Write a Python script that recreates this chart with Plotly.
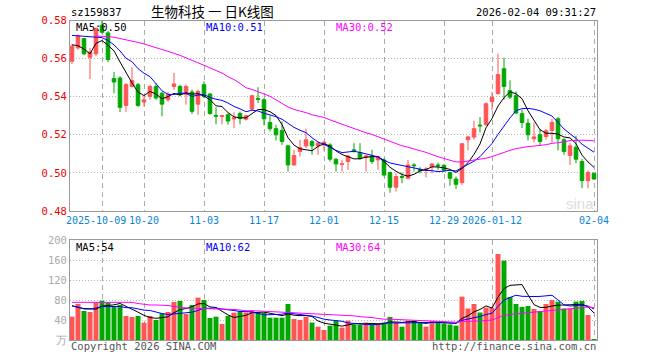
import plotly.graph_objects as go
import pandas as pd

# ---------------- data ----------------
dates = [
    "2025-09-24", "2025-09-25", "2025-09-26", "2025-09-29", "2025-09-30",
    "2025-10-09", "2025-10-10", "2025-10-13", "2025-10-14", "2025-10-15", "2025-10-16", "2025-10-17",
    "2025-10-20", "2025-10-21", "2025-10-22", "2025-10-23", "2025-10-24", "2025-10-27", "2025-10-28",
    "2025-10-29", "2025-10-30", "2025-10-31",
    "2025-11-03", "2025-11-04", "2025-11-05", "2025-11-06", "2025-11-07", "2025-11-10", "2025-11-11",
    "2025-11-12", "2025-11-13", "2025-11-14", "2025-11-17", "2025-11-18", "2025-11-19", "2025-11-20",
    "2025-11-21", "2025-11-24", "2025-11-25", "2025-11-26", "2025-11-27", "2025-11-28",
    "2025-12-01", "2025-12-02", "2025-12-03", "2025-12-04", "2025-12-05", "2025-12-08", "2025-12-09",
    "2025-12-10", "2025-12-11", "2025-12-12", "2025-12-15", "2025-12-16", "2025-12-17", "2025-12-18",
    "2025-12-19", "2025-12-22", "2025-12-23", "2025-12-24", "2025-12-25", "2025-12-26", "2025-12-29",
    "2025-12-30", "2025-12-31",
    "2026-01-05", "2026-01-06", "2026-01-07", "2026-01-08", "2026-01-09", "2026-01-12", "2026-01-13",
    "2026-01-14", "2026-01-15", "2026-01-16", "2026-01-19", "2026-01-20", "2026-01-21", "2026-01-22",
    "2026-01-23", "2026-01-26", "2026-01-27", "2026-01-28", "2026-01-29", "2026-01-30",
    "2026-02-02", "2026-02-03", "2026-02-04",
]

opens = [
    0.5586, 0.5656, 0.5705, 0.5607, 0.5625, 0.5775, 0.5735, 0.5495, 0.5498, 0.5354,
    0.5454, 0.5463, 0.5372, 0.5402, 0.5454, 0.5418, 0.5384, 0.5454, 0.5454, 0.5411,
    0.5425, 0.5361, 0.5463, 0.5414, 0.5302, 0.5296, 0.5305, 0.5283, 0.5312, 0.5282,
    0.5335, 0.5390, 0.5384, 0.5265, 0.5232, 0.5223, 0.5142, 0.5042, 0.5112, 0.5142,
    0.5165, 0.5142, 0.5147, 0.5147, 0.5072, 0.5044, 0.5060, 0.5121, 0.5107, 0.5082,
    0.5089, 0.5068, 0.5068, 0.5002, 0.4925, 0.4981, 0.4972, 0.5042, 0.5018, 0.5016,
    0.5033, 0.5042, 0.5040, 0.5002, 0.4968, 0.4949, 0.5174, 0.5188, 0.5251, 0.5253,
    0.5375, 0.5416, 0.5547, 0.5432, 0.5405, 0.5311, 0.5261, 0.5179, 0.5200, 0.5191,
    0.5223, 0.5284, 0.5174, 0.5091, 0.5135, 0.5060, 0.4960, 0.4998,
]
highs = [
    0.5677, 0.5726, 0.5709, 0.5656, 0.5765, 0.5810, 0.5744, 0.5530, 0.5507, 0.5472,
    0.5555, 0.5472, 0.5402, 0.5463, 0.5472, 0.5425, 0.5425, 0.5525, 0.5463, 0.5463,
    0.5437, 0.5437, 0.5481, 0.5419, 0.5345, 0.5302, 0.5312, 0.5318, 0.5322, 0.5305,
    0.5410, 0.5450, 0.5393, 0.5300, 0.5253, 0.5270, 0.5147, 0.5121, 0.5174, 0.5232,
    0.5174, 0.5165, 0.5168, 0.5156, 0.5077, 0.5068, 0.5095, 0.5156, 0.5156, 0.5095,
    0.5121, 0.5086, 0.5077, 0.5007, 0.4998, 0.5002, 0.5068, 0.5051, 0.5030, 0.5030,
    0.5051, 0.5054, 0.5045, 0.5007, 0.4981, 0.5156, 0.5195, 0.5274, 0.5293, 0.5370,
    0.5425, 0.5626, 0.5604, 0.5486, 0.5428, 0.5332, 0.5284, 0.5265, 0.5230, 0.5230,
    0.5284, 0.5293, 0.5182, 0.5156, 0.5196, 0.5072, 0.5012, 0.5002,
]
lows = [
    0.5572, 0.5647, 0.5618, 0.5493, 0.5612, 0.5732, 0.5582, 0.5418, 0.5319, 0.5319,
    0.5449, 0.5347, 0.5349, 0.5384, 0.5384, 0.5297, 0.5372, 0.5437, 0.5402, 0.5358,
    0.5309, 0.5305, 0.5393, 0.5305, 0.5255, 0.5255, 0.5253, 0.5235, 0.5255, 0.5275,
    0.5330, 0.5367, 0.5249, 0.5218, 0.5170, 0.5147, 0.5007, 0.5037, 0.5086, 0.5130,
    0.5095, 0.5095, 0.5117, 0.5060, 0.5007, 0.5007, 0.5016, 0.5107, 0.5068, 0.5007,
    0.5047, 0.5016, 0.4981, 0.4896, 0.4902, 0.4946, 0.4967, 0.5007, 0.4998, 0.4977,
    0.4998, 0.5016, 0.5007, 0.4933, 0.4916, 0.4937, 0.5118, 0.5174, 0.5212, 0.5247,
    0.5328, 0.5411, 0.5384, 0.5388, 0.5311, 0.5235, 0.5170, 0.5160, 0.5142, 0.5174,
    0.5160, 0.5118, 0.5095, 0.5042, 0.5051, 0.4919, 0.4919, 0.4963,
]
closes = [
    0.5665, 0.5718, 0.5625, 0.5635, 0.5758, 0.5738, 0.5595, 0.5477, 0.5344, 0.5463,
    0.5484, 0.5354, 0.5384, 0.5454, 0.5393, 0.5361, 0.5411, 0.5467, 0.5411, 0.5454,
    0.5323, 0.5428, 0.5402, 0.5312, 0.5298, 0.5300, 0.5272, 0.5289, 0.5285, 0.5300,
    0.5405, 0.5386, 0.5284, 0.5232, 0.5200, 0.5165, 0.5042, 0.5091, 0.5133, 0.5174,
    0.5142, 0.5156, 0.5161, 0.5072, 0.5047, 0.5047, 0.5089, 0.5112, 0.5077, 0.5089,
    0.5060, 0.5086, 0.4989, 0.4925, 0.4981, 0.4977, 0.5042, 0.5038, 0.5012, 0.5020,
    0.5047, 0.5038, 0.5014, 0.4972, 0.4940, 0.5153, 0.5189, 0.5232, 0.5247, 0.5363,
    0.5396, 0.5516, 0.5454, 0.5398, 0.5314, 0.5265, 0.5200, 0.5189, 0.5165, 0.5221,
    0.5265, 0.5179, 0.5112, 0.5142, 0.5072, 0.4960, 0.5002, 0.4968,
]
volumes = [
    46.7, 72, 58, 56, 75.3, 78.7, 74.7, 66.7, 70, 48,
    46, 48, 34.7, 48, 40, 53.3, 56, 76, 78, 52,
    70, 84.7, 80, 44, 46.7, 32, 48, 54.7, 56.7, 55.3,
    58, 54.7, 54.7, 44.7, 44.7, 44.7, 72, 42, 40, 46.7,
    35, 26.7, 20, 28.7, 38.7, 24.7, 38.7, 31, 31, 35,
    31, 33, 35, 46, 35, 26.7, 38.7, 38.7, 35, 26.7,
    38, 36.7, 33, 31, 28.7, 86.7, 63, 72, 55, 64.7,
    64.7, 172, 158.7, 86, 72, 66, 68, 62, 58, 72,
    80, 76.7, 63, 63, 76.7, 78, 50, 2,
]

# moving-average values at the start of the window
price_ma5_head = [0.5672, 0.5668, 0.5650, 0.5625]
price_ma10_head = [0.5722, 0.5720, 0.5718, 0.5716, 0.5714, 0.5710, 0.5695, 0.5672, 0.5640]
price_ma30_head = [None, None, None, None,
                   0.5718, 0.5718, 0.5716, 0.5712, 0.5706, 0.5700, 0.5692, 0.5685, 0.5677,
                   0.5668, 0.5658, 0.5648, 0.5638, 0.5628, 0.5617, 0.5605, 0.5592, 0.5579,
                   0.5565, 0.5551, 0.5538, 0.5524, 0.5505, 0.5490, 0.5470]
vol_ma5_head = [68.7, 65, 63, 62]
vol_ma10_head = [68, 66, 62, 62, 64, 66.7, 67, 67.5, 67]
vol_ma30_head = [75.3, 75.3, 75.3, 75.3, 75.3, 75.3, 75.3, 75.3, 75.3, 75.3, 75.3,
                 73, 71, 70, 70, 70, 69, 67, 65, 64, 63.5, 63.3, 63.3, 63.3, 63, 62.5,
                 62, 61, 60]

tick_dates = ["2025-10-09", "2025-10-20", "2025-11-03", "2025-11-17", "2025-12-01",
              "2025-12-15", "2025-12-29", "2026-01-12", "2026-02-04"]
tick_labels = ["2025-10-09", "10-20", "11-03", "11-17", "12-01", "12-15", "12-29",
               "2026-01-12", "02-04"]
price_ticks = [0.48, 0.50, 0.52, 0.54, 0.56, 0.58]
vol_ticks = [0, 40, 80, 120, 160, 200]
vol_tick_labels = ["万", "40", "80", "120", "160", "200"]


def moving_average(values, n, head):
    out = pd.Series(values, dtype=float).rolling(n).mean().tolist()
    for k, v in enumerate(head):
        out[k] = v
    return out


RED = "#ff5555"
GREEN = "#00a800"
TICKBLUE = "#0a84d8"
MONO = "DejaVu Sans Mono"
W, H = 660, 360


def px(x):
    return x / W


def py(y):
    return 1 - y / H


fig = go.Figure()
fig.add_trace(go.Candlestick(
    x=dates, open=opens, high=highs, low=lows, close=closes,
    increasing=dict(line=dict(color=RED, width=1), fillcolor=RED),
    decreasing=dict(line=dict(color=GREEN, width=1), fillcolor=GREEN),
    whiskerwidth=0, xaxis="x", yaxis="y", showlegend=False, hoverinfo="skip"))

for n, head, col in [(5, price_ma5_head, "#000000"), (10, price_ma10_head, "#0000ff"),
                     (30, price_ma30_head, "#ff00ff")]:
    fig.add_trace(go.Scatter(x=dates, y=moving_average(closes, n, head), mode="lines",
                             line=dict(color=col, width=1), xaxis="x", yaxis="y",
                             showlegend=False, hoverinfo="skip"))

vol_colors = [RED if c >= o else GREEN for o, c in zip(opens, closes)]
fig.add_trace(go.Bar(x=dates, y=volumes, marker=dict(color=vol_colors, line=dict(width=0)),
                     xaxis="x2", yaxis="y2", showlegend=False, hoverinfo="skip"))
for n, head, col in [(5, vol_ma5_head, "#000000"), (10, vol_ma10_head, "#0000ff"),
                     (30, vol_ma30_head, "#ff00ff")]:
    fig.add_trace(go.Scatter(x=dates, y=moving_average(volumes, n, head), mode="lines",
                             line=dict(color=col, width=1), xaxis="x2", yaxis="y2",
                             showlegend=False, hoverinfo="skip"))

xdom = [px(70), px(597)]
xrange_ = [-0.333, 87.5]
common_x = dict(type="category", domain=xdom, range=xrange_, tickvals=tick_dates,
                showgrid=True, gridcolor="#aaaaaa", griddash="5px,4px", gridwidth=1,
                showline=True, mirror=True, linecolor="#999999", linewidth=1,
                ticks="", zeroline=False, fixedrange=True, automargin=False,
                tickangle=0)
common_y = dict(showgrid=True, gridcolor="#b4b4b4", griddash="1px,2px", gridwidth=1,
                showline=True, mirror=True, linecolor="#999999", linewidth=1,
                ticks="", zeroline=False, fixedrange=True, automargin=False)

annotations = []


def label(text, x, y, color="#000000", size=10.5, anchor="left", family=MONO):
    annotations.append(dict(text=text, x=px(x), y=py(y), xref="paper", yref="paper",
                            xanchor=anchor, yanchor="middle", showarrow=False,
                            font=dict(family=family, size=size, color=color)))


label("sz159837", 69, 11.5)
label("生物科技 一 日K线图", 149, 11, size=13.5, family="Noto Sans CJK SC")
label("2026-02-04 09:31:27", 598, 11.5, anchor="right")
label("MA5:0.50", 74, 27.5)
label("MA10:0.51", 204, 27.5, color="#0000ff")
label("MA30:0.52", 334, 27.5, color="#ff00ff")
label("MA5:54", 74, 246.5)
label("MA10:62", 204, 246.5, color="#0000ff")
label("MA30:64", 334, 246.5, color="#ff00ff")
label("Copyright 2026 SINA.COM", 69, 346, color="#555555")
label("http://finance.sina.com.cn", 598, 346, color="#555555", anchor="right")
label("sina", 596, 203, color="#dddddd", size=15, anchor="right", family="Liberation Sans")

# first date label sits flush left of the second one (as in the reference)
axis_ticktext = [""] + tick_labels[1:]
annotations.append(dict(text=tick_labels[0], x=tick_dates[0], xref="x", y=py(220.5),
                        yref="paper", xanchor="right", yanchor="middle", xshift=26,
                        showarrow=False, font=dict(family=MONO, size=10, color=TICKBLUE)))

fig.update_layout(
    width=W, height=H, margin=dict(l=0, r=0, t=0, b=0),
    paper_bgcolor="white", plot_bgcolor="white",
    boxgap=0.15, bargap=0.17,
    xaxis=dict(common_x, anchor="y", ticktext=axis_ticktext,
               tickfont=dict(family=MONO, size=10, color=TICKBLUE),
               rangeslider=dict(visible=False)),
    xaxis2=dict(common_x, anchor="y2", showticklabels=False),
    yaxis=dict(common_y, domain=[py(211), py(20.5)], range=[0.48, 0.58],
               tickvals=price_ticks, ticktext=[f"{v:.2f}" for v in price_ticks],
               tickfont=dict(family=MONO, size=10.5, color="#ee0000")),
    yaxis2=dict(common_y, domain=[py(340), py(240)], range=[0, 200],
                tickvals=vol_ticks, ticktext=vol_tick_labels,
                tickfont=dict(family=MONO, size=10.5, color="#aaaaaa")),
    annotations=annotations,
)

fig.write_html("out.html")
